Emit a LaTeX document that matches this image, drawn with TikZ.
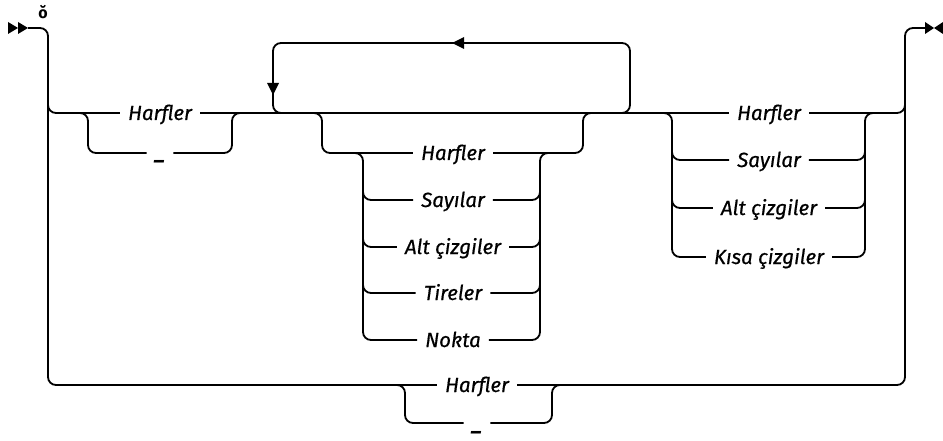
\documentclass[tikz,border=0pt]{standalone}
\usepackage{fontspec}
\setmainfont{Fira Sans}[ItalicFeatures={FakeBold=0.6}]
\usepackage{tikz}
\usetikzlibrary{positioning,arrows.meta}

\begin{document}
\begin{tikzpicture}[
		x=1pt,y=-1pt,
		rail/.style={line width=1.8pt,rounded corners=8pt},
		lbl/.style={font=\fontsize{20.5}{23}\selectfont\itshape,inner xsep=8pt,inner ysep=0pt,text height=14pt,text depth=0pt},
		tip/.style={fill=black}
		]
		\useasboundingbox (0,0) rectangle (943,441);
		
		% labels
		\node[font=\fontsize{16}{18}\selectfont\bfseries] (sym) at (43,12) {ŏ};
		\node[lbl] (h1) at (160,113) {Harfler};
		\node[lbl] (u1) at (160,153) {\textbf{\_}};
		\node[lbl] (i1) at (453,153) {Harfler};
		\node[lbl] (i2) at (453,200) {Sayılar};
		\node[lbl] (i3) at (453,247) {Alt çizgiler};
		\node[lbl] (i4) at (453,293) {Tireler};
		\node[lbl] (i5) at (453,340) {Nokta};
		\node[lbl] (r1) at (769,113) {Harfler};
		\node[lbl] (r2) at (769,160) {Sayılar};
		\node[lbl] (r3) at (769,208) {Alt çizgiler};
		\node[lbl] (r4) at (769,257) {Kısa çizgiler};
		\node[lbl] (b1) at (477,385) {Harfler};
		\node[lbl] (u2) at (477,423) {\textbf{\_}};
		
		% start and end marks
		\fill[tip] (8,22) -- (18,28) -- (8,34) -- cycle;
		\fill[tip] (18,22) -- (28,28) -- (18,34) -- cycle;
		\fill[tip] (925,22) -- (934,28) -- (925,34) -- cycle;
		\fill[tip] (943,22) -- (934,28) -- (943,34) -- cycle;
		
		% outer path and bottom choice
		\draw[rail] (28,28) -- (48,28) -- (48,385) -- (b1.west);
		\draw[rail] (b1.east) -- (905,385) -- (905,28) -- (925,28);
		\draw[rail] (393,385) -- (405,385) -- (405,423) -- (u2.west);
		\draw[rail] (u2.east) -- (552,423) -- (552,385) -- (564,385);
		
		% main line
		\draw[rail] (48,100) -- (48,113) -- (h1.west);
		\draw[rail] (h1.east) -- (r1.west);
		\draw[rail] (r1.east) -- (905,113) -- (905,100);
		\draw[rail] (76,113) -- (88,113) -- (88,153) -- (u1.west);
		\draw[rail] (u1.east) -- (232,153) -- (232,113) -- (244,113);
		
		% repeat loop
		\draw[rail] (618,113) -- (630,113) -- (630,43) -- (273,43) -- (273,113) -- (285,113);
		\fill[tip] (452,43) -- (464,37) -- (464,49) -- cycle;
		\fill[tip] (273,95) -- (267,83) -- (279,83) -- cycle;
		
		% choice inside loop
		\draw[rail] (310,113) -- (322,113) -- (322,153) -- (i1.west);
		\draw[rail] (i1.east) -- (583,153) -- (583,113) -- (595,113);
		\draw[rail] (351,153) -- (363,153) -- (363,340) -- (i5.west);
		\draw[rail] (i5.east) -- (540,340) -- (540,153) -- (552,153);
		\foreach \n/\y in {i2/200,i3/247,i4/293}{
			\draw[rail] (363,\y-10) -- (363,\y) -- (\n.west);
			\draw[rail] (\n.east) -- (540,\y) -- (540,\y-10);
		}
		
		% choice after loop
		\draw[rail] (660,113) -- (672,113) -- (672,257) -- (r4.west);
		\draw[rail] (r4.east) -- (865,257) -- (865,113) -- (877,113);
		\foreach \n/\y in {r2/160,r3/208}{
			\draw[rail] (672,\y-10) -- (672,\y) -- (\n.west);
			\draw[rail] (\n.east) -- (865,\y) -- (865,\y-10);
		}
	\end{tikzpicture}
\end{document}
